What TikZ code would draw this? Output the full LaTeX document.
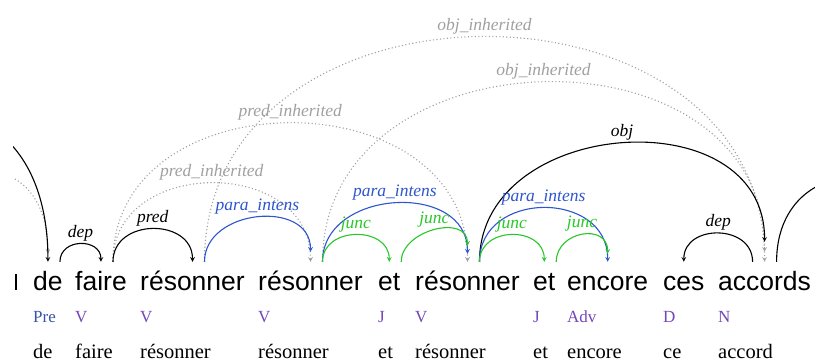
\documentclass[tikz,border=0pt]{standalone}
\usepackage{fontspec}
\setmainfont{Liberation Serif}
\setsansfont{Liberation Sans}
\usepackage{xcolor}
\usepackage{tikz}
\definecolor{arcb}{RGB}{45,85,205}
\definecolor{arcg}{RGB}{40,200,40}
\definecolor{arcgr}{RGB}{160,160,160}
\definecolor{tagpre}{RGB}{55,85,165}
\definecolor{tagv}{RGB}{115,70,185}

\begin{document}
\begin{tikzpicture}[
  x=1pt, y=-1pt,
  word/.style={
    anchor=base west, inner xsep=0pt, inner ysep=7pt,
    text height=22pt, text depth=6pt,
    font=\sffamily\fontsize{26.5}{30}\selectfont
  },
  tagtext/.style={anchor=base west, inner sep=0pt, text=tagv,
    font=\fontsize{17}{19}\selectfont},
  lemma/.style={anchor=base west, inner sep=0pt,
    font=\fontsize{20.5}{22}\selectfont},
  arclbl/.style={midway, above, inner sep=2.5pt,
    font=\fontsize{17.5}{19}\selectfont\itshape},
  arcblack/.style={->,>=stealth,line width=1.1pt,color=black},
  arcblue/.style={->,>=stealth,line width=1.1pt,color=arcb},
  arcgreen/.style={->,>=stealth,line width=1.1pt,color=arcg},
  arcinh/.style={->,>=stealth,line width=1.1pt,color=arcgr,
    dash pattern=on 1.1pt off 2.4pt}
]
\useasboundingbox (0,0) rectangle (815,363);
\clip (13,0) rectangle (815,363);

% words
\fill (14.5,274) rectangle (17,290);
\node[word] (de) at (33,291) {de};
\node[word] (faire) at (75,291) {faire};
\node[word] (res1) at (140,291) {résonner};
\node[word] (res2) at (258,291) {résonner};
\node[word] (et1) at (378,291) {et};
\node[word] (res3) at (415,291) {résonner};
\node[word] (et2) at (533,291) {et};
\node[word] (encore) at (567,291) {encore};
\node[word] (ces) at (663,291) {ces};
\node[word] (accords) at (718,291) {accords};

% tags
\node[tagtext,text=tagpre] (detag) at ([yshift=-32pt]de.base west) {Pre};
\node[tagtext] (fairetag) at ([yshift=-32pt]faire.base west) {V};
\node[tagtext] (res1tag) at ([yshift=-32pt]res1.base west) {V};
\node[tagtext] (res2tag) at ([yshift=-32pt]res2.base west) {V};
\node[tagtext] (et1tag) at ([yshift=-32pt]et1.base west) {J};
\node[tagtext] (res3tag) at ([yshift=-32pt]res3.base west) {V};
\node[tagtext] (et2tag) at ([yshift=-32pt]et2.base west) {J};
\node[tagtext] (encoretag) at ([yshift=-32pt]encore.base west) {Adv};
\node[tagtext] (cestag) at ([yshift=-32pt]ces.base west) {D};
\node[tagtext] (accordstag) at ([yshift=-32pt]accords.base west) {N};

% lemmas
\node[lemma] (delem) at ([yshift=-68pt]de.base west) {de};
\node[lemma] (fairelem) at ([yshift=-68pt]faire.base west) {faire};
\node[lemma] (res1lem) at ([yshift=-68pt]res1.base west) {résonner};
\node[lemma] (res2lem) at ([yshift=-68pt]res2.base west) {résonner};
\node[lemma] (et1lem) at ([yshift=-68pt]et1.base west) {et};
\node[lemma] (res3lem) at ([yshift=-68pt]res3.base west) {résonner};
\node[lemma] (et2lem) at ([yshift=-68pt]et2.base west) {et};
\node[lemma] (encorelem) at ([yshift=-68pt]encore.base west) {encore};
\node[lemma] (ceslem) at ([yshift=-68pt]ces.base west) {ce};
\node[lemma] (accordslem) at ([yshift=-68pt]accords.base west) {accord};

% arcs leaving the picture
\coordinate (srcl1) at (-150,262);
\coordinate (srcl2) at (-72,262);
\coordinate (srcr) at (927,262);

% inherited arcs
\draw[arcinh] (srcl2) .. controls +(0,-117) and +(0,-110) .. ([yshift=8pt]de.north);
\draw[arcinh] ([xshift=12pt]faire.north) .. controls +(0,-105) and +(0,-105) .. (res2.north)
  node[arclbl]{pred\_inherited};
\draw[arcinh] ([xshift=12pt]faire.north) .. controls +(0,-185) and +(0,-185) .. (res3.north)
  node[arclbl]{pred\_inherited};
\draw[arcinh] ([xshift=12pt]res1.north) .. controls +(0,-300) and +(0,-300) .. (accords.north)
  node[arclbl]{obj\_inherited};
\draw[arcinh] ([xshift=12pt]res2.north) .. controls +(0,-233) and +(0,-233) .. ([yshift=10pt]accords.north)
  node[arclbl]{obj\_inherited};

% black arcs
\draw[arcblack] (srcl1) .. controls +(0,-194) and +(0,-194) .. (de.north);
\draw[arcblack] ([xshift=12pt]de.north) .. controls +(0,-24) and +(0,-24) .. (faire.north)
  node[arclbl]{dep};
\draw[arcblack] ([xshift=12pt]faire.north) .. controls +(0,-44) and +(0,-44) .. (res1.north)
  node[arclbl]{pred};
\draw[arcblack] ([xshift=12pt]res3.north) .. controls +(0,-145) and +(0,-145) .. ([yshift=20pt]accords.north)
  node[arclbl]{obj};
\draw[arcblack] ([xshift=-12pt]accords.north) .. controls +(0,-38) and +(0,-38) .. (ces.north)
  node[arclbl]{dep};
\draw[arcblack] ([xshift=12pt]accords.north) .. controls +(0,-112) and +(0,-112) .. (srcr);

% blue arcs
\draw[arcblue] ([xshift=12pt]res1.north) .. controls +(0,-53) and +(0,-53) .. ([yshift=10pt]res2.north)
  node[arclbl]{para\_intens};
\draw[arcblue] ([xshift=12pt]res2.north) .. controls +(0,-73) and +(0,-73) .. ([yshift=8pt]res3.north)
  node[arclbl]{para\_intens};
\draw[arcblue] ([xshift=12pt]res3.north) .. controls +(0,-72) and +(0,-72) .. (encore.north)
  node[arclbl]{para\_intens};

% green arcs
\draw[arcgreen] ([xshift=12pt]res2.north) .. controls +(0,-36) and +(0,-36) .. (et1.north)
  node[arclbl]{junc};
\draw[arcgreen] ([xshift=12pt]et1.north) .. controls +(0,-32) and +(0,-32) .. ([yshift=16pt]res3.north)
  node[arclbl]{junc};
\draw[arcgreen] ([xshift=12pt]res3.north) .. controls +(0,-36) and +(0,-36) .. (et2.north)
  node[arclbl]{junc};
\draw[arcgreen] ([xshift=12pt]et2.north) .. controls +(0,-31) and +(0,-31) .. ([yshift=8pt]encore.north)
  node[arclbl]{junc};
\end{tikzpicture}
\end{document}
